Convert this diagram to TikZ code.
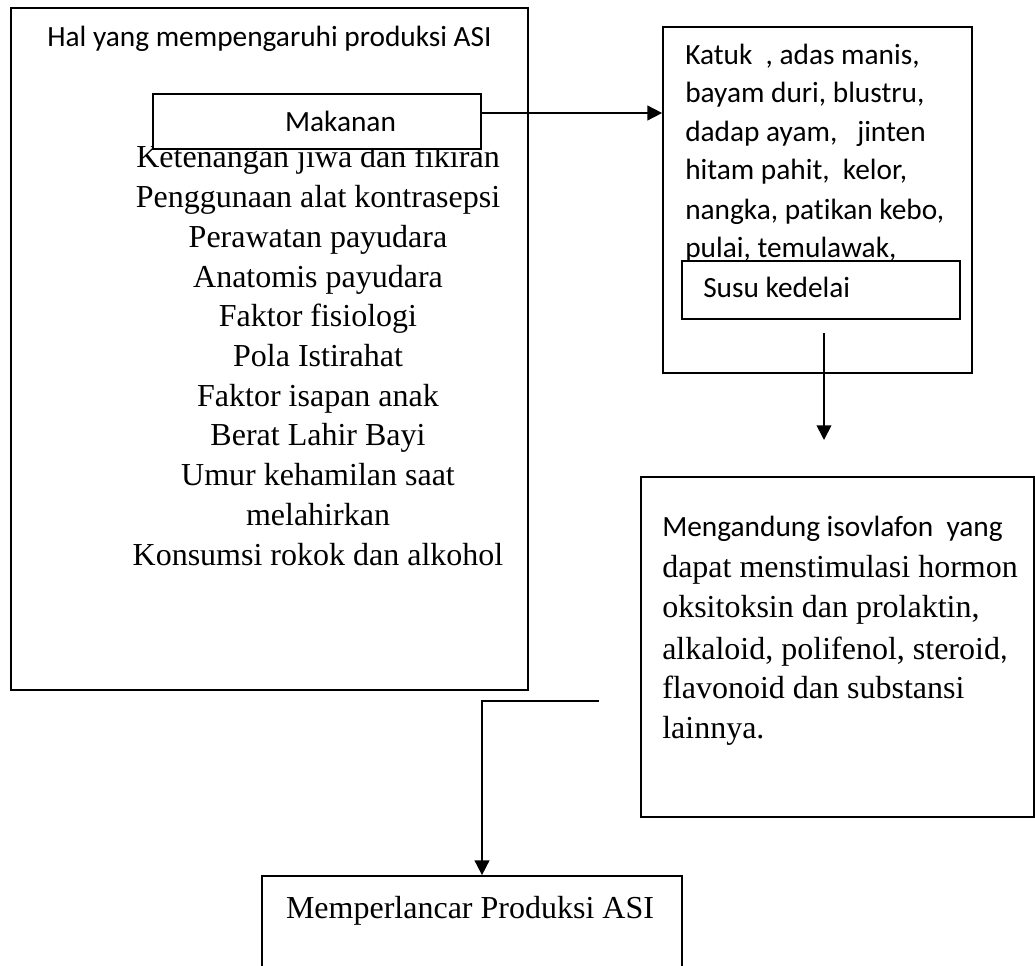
\documentclass[tikz,border=0pt]{standalone}
\usepackage{fontspec}
\setmainfont{Liberation Serif}
\newfontfamily\calibri[Ligatures=NoCommon]{Carlito}
\usetikzlibrary{fit,arrows.meta}

\tikzset{
  box/.style={draw, line width=1.3pt, inner sep=0pt},
  whitebox/.style={box, fill=white},
  serif/.style={font=\fontsize{24}{30}\selectfont, inner sep=0pt},
  sans/.style={font=\calibri\fontsize{22}{29}\selectfont, inner sep=0pt},
  arr/.style={line width=1.3pt, -{Triangle[length=11pt,width=11pt]}}
}

\begin{document}
\begin{tikzpicture}[x=0.75pt,y=0.75pt,yscale=-1,xscale=1]
\useasboundingbox (0,0) rectangle (1035,966);

%Shape: Rectangle [id:faktor]
\node[box, fit={(11,8) (528,690)}] (faktor) {};
% Text Node
\node[sans, anchor=base] (judul) at (269.5,47) {Hal yang mempengaruhi produksi ASI};
% Text Node
\node[serif, anchor=base] (lst1) at (318,168) {Ketenangan jiwa dan fikiran};
% Text Node
\node[serif, anchor=base] (lst2) at (318,207.7) {Penggunaan alat kontrasepsi};
% Text Node
\node[serif, anchor=base] (lst3) at (318,247.4) {Perawatan payudara};
% Text Node
\node[serif, anchor=base] (lst4) at (318,287.1) {Anatomis payudara};
% Text Node
\node[serif, anchor=base] (lst5) at (318,326.8) {Faktor fisiologi};
% Text Node
\node[serif, anchor=base] (lst6) at (318,366.5) {Pola Istirahat};
% Text Node
\node[serif, anchor=base] (lst7) at (318,406.2) {Faktor isapan anak};
% Text Node
\node[serif, anchor=base] (lst8) at (318,445.9) {Berat Lahir Bayi};
% Text Node
\node[serif, anchor=base] (lst9) at (318,485.6) {Umur kehamilan saat};
% Text Node
\node[serif, anchor=base] (lst10) at (318,525.3) {melahirkan};
% Text Node
\node[serif, anchor=base] (lst11) at (318,565) {Konsumsi rokok dan alkohol};

%Shape: Rectangle [id:makanan]
\node[whitebox, fit={(153,94) (481,149)}] (makanan) {};
% Text Node
\node[sans, anchor=base] (makananTxt) at (340.5,132) {Makanan};

%Shape: Rectangle [id:herbal]
\node[box, fit={(663,27) (972,373)}] (herbal) {};
% Text Node
\node[sans, anchor=base west] (hb1) at (685,65) {Katuk\ \ , adas manis,};
% Text Node
\node[sans, anchor=base west] (hb2) at (685,103) {bayam duri, blustru,};
% Text Node
\node[sans, anchor=base west] (hb3) at (685,142) {dadap ayam,\ \ \ jinten};
% Text Node
\node[sans, anchor=base west] (hb4) at (685,180) {hitam pahit,\ \ kelor,};
% Text Node
\node[sans, anchor=base west] (hb5) at (685,220) {nangka, patikan kebo,};
% Text Node
\node[sans, anchor=base west] (hb6) at (685,258) {pulai, temulawak,};

%Shape: Rectangle [id:susu]
\node[whitebox, fit={(682,261) (960,319)}] (susu) {};
% Text Node
\node[sans, anchor=base west] (susuTxt) at (703,297) {Susu kedelai};

%Shape: Rectangle [id:kandungan]
\node[box, fit={(641,477) (1034,817)}] (kandungan) {};
% Text Node
\node[sans, anchor=base west] (kd1) at (662,536) {Mengandung isovlafon\ \ yang};
% Text Node
\node[serif, anchor=base west] (kd2) at (662,577) {dapat menstimulasi hormon};
% Text Node
\node[serif, anchor=base west] (kd3) at (662,617) {oksitoksin dan prolaktin,};
% Text Node
\node[serif, anchor=base west] (kd4) at (662,659) {alkaloid, polifenol, steroid{\calibri,}};
% Text Node
\node[serif, anchor=base west] (kd5) at (662,698) {flavonoid dan substansi};
% Text Node
\node[serif, anchor=base west] (kd6) at (662,738) {lainnya.};

%Shape: Rectangle [id:lancar]
\node[box, fit={(262,876) (682,1010)}] (lancar) {};
% Text Node
\node[serif, anchor=base] (lancarTxt) at (470,918) {Memperlancar Produksi ASI};

%Straight Lines [id:makanan-herbal]
\coordinate (m1) at (481,113);
\draw[arr] (m1) -- (m1 -| herbal.west);
%Straight Lines [id:herbal-down]
\coordinate (s1) at (824,333);
\coordinate (s2) at (824,440);
\draw[arr] (s1) -- (s2);
%Straight Lines [id:ke-lancar]
\coordinate (k1) at (599,701);
\coordinate (k2) at (482,701);
\draw[arr] (k1) -- (k2) -- (k2 |- lancar.north);

\end{tikzpicture}
\end{document}
